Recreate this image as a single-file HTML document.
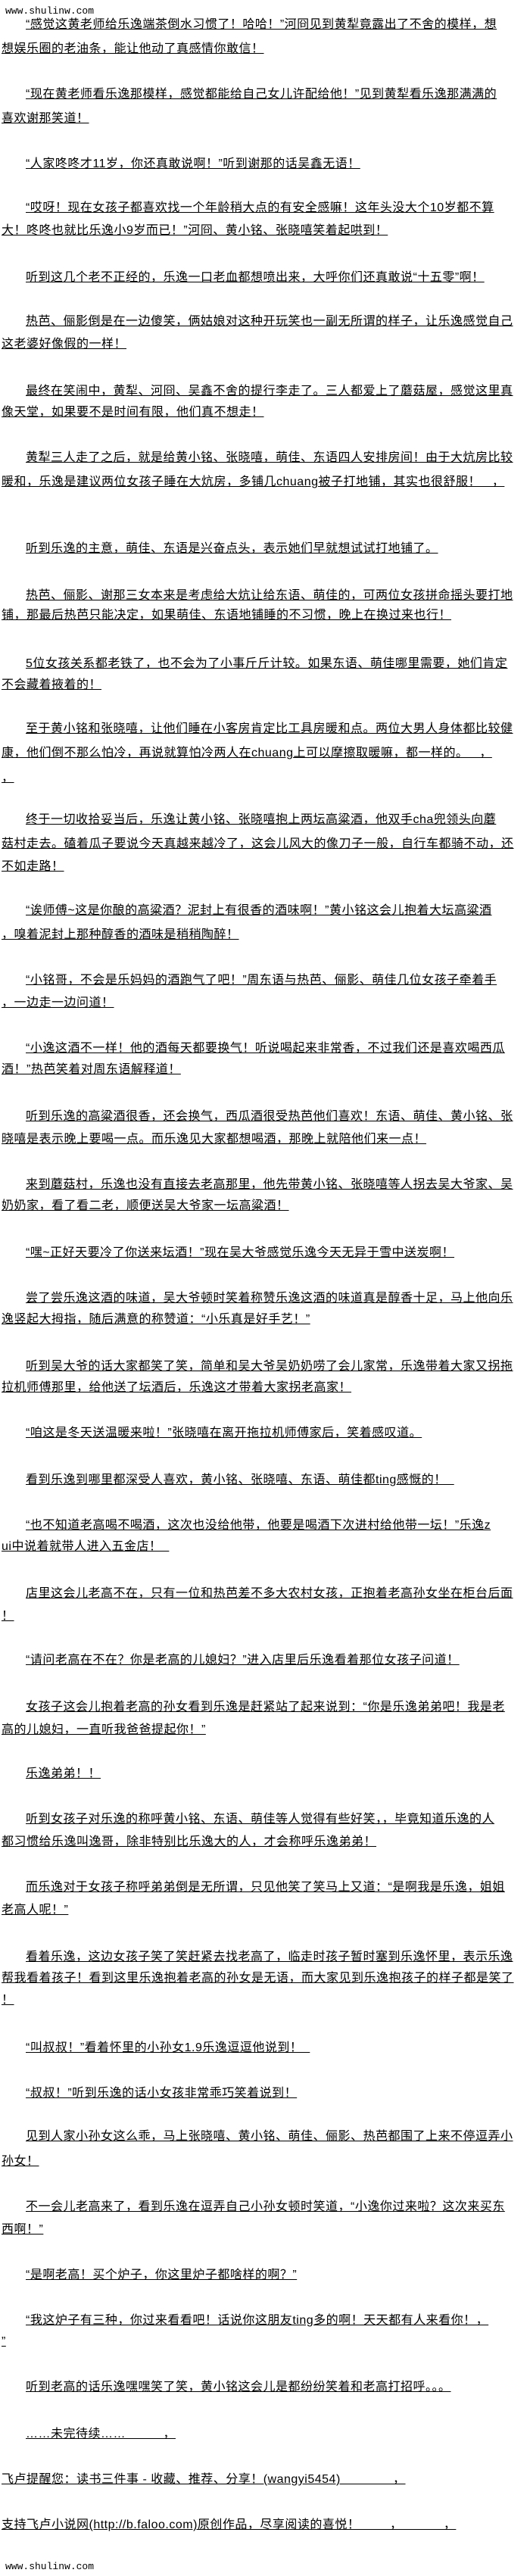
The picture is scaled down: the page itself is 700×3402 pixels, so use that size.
<!DOCTYPE html>
<html><head><meta charset="utf-8">
<style>
html,body{margin:0;padding:0;background:#fff;}
body{width:700px;height:3402px;position:relative;overflow:hidden;font-family:"Liberation Sans","Noto Sans CJK SC",sans-serif;color:#000;}
.l{position:absolute;left:2px;font-size:16px;line-height:20px;height:20px;white-space:nowrap;text-decoration:underline;letter-spacing:0.5px;}
.i{left:34px;}
.w{position:absolute;left:7px;font-family:"Liberation Mono",monospace;font-size:13px;line-height:16px;}
</style></head><body>
<div class="w" style="top:7px">www.shulinw.com</div>
<div class="l i" style="top:23px">“感觉这黄老师给乐逸端茶倒水习惯了！哈哈！”河冏见到黄犁竟露出了不舍的模样，想</div>
<div class="l" style="top:55px">想娱乐圈的老油条，能让他动了真感情你敢信！</div>
<div class="l i" style="top:115px">“现在黄老师看乐逸那模样，感觉都能给自己女儿许配给他！”见到黄犁看乐逸那满满的</div>
<div class="l" style="top:147px">喜欢谢那笑道！</div>
<div class="l i" style="top:207px">“人家咚咚才11岁，你还真敢说啊！”听到谢那的话吴鑫无语！</div>
<div class="l i" style="top:265px">“哎呀！现在女孩子都喜欢找一个年龄稍大点的有安全感嘛！这年头没大个10岁都不算</div>
<div class="l" style="top:295px">大！咚咚也就比乐逸小9岁而已！”河冏、黄小铭、张晓嘻笑着起哄到！</div>
<div class="l i" style="top:357px">听到这几个老不正经的，乐逸一口老血都想喷出来，大呼你们还真敢说“十五零”啊！</div>
<div class="l i" style="top:415px">热芭、俪影倒是在一边傻笑，俩姑娘对这种开玩笑也一副无所谓的样子，让乐逸感觉自己</div>
<div class="l" style="top:445px">这老婆好像假的一样！</div>
<div class="l i" style="top:507px">最终在笑闹中，黄犁、河冏、吴鑫不舍的提行李走了。三人都爱上了蘑菇屋，感觉这里真</div>
<div class="l" style="top:535px">像天堂，如果要不是时间有限，他们真不想走！</div>
<div class="l i" style="top:595px">黄犁三人走了之后，就是给黄小铭、张晓嘻，萌佳、东语四人安排房间！由于大炕房比较</div>
<div class="l" style="top:627px">暖和，乐逸是建议两位女孩子睡在大炕房，多铺几chuang被子打地铺，其实也很舒服！&nbsp;&nbsp;&nbsp;，</div>
<div class="l i" style="top:715px">听到乐逸的主意，萌佳、东语是兴奋点头，表示她们早就想试试打地铺了。</div>
<div class="l i" style="top:777px">热芭、俪影、谢那三女本来是考虑给大炕让给东语、萌佳的，可两位女孩拼命摇头要打地</div>
<div class="l" style="top:803px">铺，那最后热芭只能决定，如果萌佳、东语地铺睡的不习惯，晚上在换过来也行！</div>
<div class="l i" style="top:867px">5位女孩关系都老铁了，也不会为了小事斤斤计较。如果东语、萌佳哪里需要，她们肯定</div>
<div class="l" style="top:895px">不会藏着掖着的！</div>
<div class="l i" style="top:953px">至于黄小铭和张晓嘻，让他们睡在小客房肯定比工具房暖和点。两位大男人身体都比较健</div>
<div class="l" style="top:985px">康，他们倒不那么怕冷，再说就算怕冷两人在chuang上可以摩擦取暖嘛，都一样的。&nbsp;&nbsp;&nbsp;，</div>
<div class="l" style="top:1018px">，</div>
<div class="l i" style="top:1073px">终于一切收拾妥当后，乐逸让黄小铭、张晓嘻抱上两坛高粱酒，他双手cha兜领头向蘑</div>
<div class="l" style="top:1105px">菇村走去。磕着瓜子要说今天真越来越冷了，这会儿风大的像刀子一般，自行车都骑不动，还</div>
<div class="l" style="top:1135px">不如走路！</div>
<div class="l i" style="top:1193px">“诶师傅~这是你酿的高粱酒？泥封上有很香的酒味啊！”黄小铭这会儿抱着大坛高粱酒</div>
<div class="l" style="top:1225px">，嗅着泥封上那种醇香的酒味是稍稍陶醉！</div>
<div class="l i" style="top:1285px">“小铭哥，不会是乐妈妈的酒跑气了吧！”周东语与热芭、俪影、萌佳几位女孩子牵着手</div>
<div class="l" style="top:1315px">，一边走一边问道！</div>
<div class="l i" style="top:1375px">“小逸这酒不一样！他的酒每天都要换气！听说喝起来非常香，不过我们还是喜欢喝西瓜</div>
<div class="l" style="top:1403px">酒！”热芭笑着对周东语解释道！</div>
<div class="l i" style="top:1465px">听到乐逸的高粱酒很香，还会换气，西瓜酒很受热芭他们喜欢！东语、萌佳、黄小铭、张</div>
<div class="l" style="top:1495px">晓嘻是表示晚上要喝一点。而乐逸见大家都想喝酒，那晚上就陪他们来一点！</div>
<div class="l i" style="top:1555px">来到蘑菇村，乐逸也没有直接去老高那里，他先带黄小铭、张晓嘻等人拐去吴大爷家、吴</div>
<div class="l" style="top:1583px">奶奶家，看了看二老，顺便送吴大爷家一坛高粱酒！</div>
<div class="l i" style="top:1645px">“嘿~正好天要冷了你送来坛酒！”现在吴大爷感觉乐逸今天无异于雪中送炭啊！</div>
<div class="l i" style="top:1705px">尝了尝乐逸这酒的味道，吴大爷顿时笑着称赞乐逸这酒的味道真是醇香十足，马上他向乐</div>
<div class="l" style="top:1733px">逸竖起大拇指，随后满意的称赞道：“小乐真是好手艺！”</div>
<div class="l i" style="top:1795px">听到吴大爷的话大家都笑了笑，简单和吴大爷吴奶奶唠了会儿家常，乐逸带着大家又拐拖</div>
<div class="l" style="top:1823px">拉机师傅那里，给他送了坛酒后，乐逸这才带着大家拐老高家！</div>
<div class="l i" style="top:1883px">“咱这是冬天送温暖来啦！”张晓嘻在离开拖拉机师傅家后，笑着感叹道。</div>
<div class="l i" style="top:1945px">看到乐逸到哪里都深受人喜欢，黄小铭、张晓嘻、东语、萌佳都ting感慨的！&nbsp;&nbsp;</div>
<div class="l i" style="top:2005px">“也不知道老高喝不喝酒，这次也没给他带，他要是喝酒下次进村给他带一坛！”乐逸z</div>
<div class="l" style="top:2033px">ui中说着就带人进入五金店！&nbsp;&nbsp;</div>
<div class="l i" style="top:2095px">店里这会儿老高不在，只有一位和热芭差不多大农村女孩，正抱着老高孙女坐在柜台后面</div>
<div class="l" style="top:2125px">！</div>
<div class="l i" style="top:2183px">“请问老高在不在？你是老高的儿媳妇？”进入店里后乐逸看着那位女孩子问道！</div>
<div class="l i" style="top:2245px">女孩子这会儿抱着老高的孙女看到乐逸是赶紧站了起来说到：“你是乐逸弟弟吧！我是老</div>
<div class="l" style="top:2275px">高的儿媳妇，一直听我爸爸提起你！”</div>
<div class="l i" style="top:2333px">乐逸弟弟！！</div>
<div class="l i" style="top:2393px">听到女孩子对乐逸的称呼黄小铭、东语、萌佳等人觉得有些好笑，，毕竟知道乐逸的人</div>
<div class="l" style="top:2423px">都习惯给乐逸叫逸哥，除非特别比乐逸大的人，才会称呼乐逸弟弟！</div>
<div class="l i" style="top:2483px">而乐逸对于女孩子称呼弟弟倒是无所谓，只见他笑了笑马上又道：“是啊我是乐逸，姐姐</div>
<div class="l" style="top:2513px">老高人呢！”</div>
<div class="l i" style="top:2575px">看着乐逸，这边女孩子笑了笑赶紧去找老高了，临走时孩子暂时塞到乐逸怀里，表示乐逸</div>
<div class="l" style="top:2603px">帮我看着孩子！看到这里乐逸抱着老高的孙女是无语，而大家见到乐逸抱孩子的样子都是笑了</div>
<div class="l" style="top:2632px">！</div>
<div class="l i" style="top:2695px">“叫叔叔！”看着怀里的小孙女1.9乐逸逗逗他说到！&nbsp;&nbsp;</div>
<div class="l i" style="top:2755px">“叔叔！”听到乐逸的话小女孩非常乖巧笑着说到！</div>
<div class="l i" style="top:2812px">见到人家小孙女这么乖，马上张晓嘻、黄小铭、萌佳、俪影、热芭都围了上来不停逗弄小</div>
<div class="l" style="top:2845px">孙女！</div>
<div class="l i" style="top:2905px">不一会儿老高来了，看到乐逸在逗弄自己小孙女顿时笑道，“小逸你过来啦？这次来买东</div>
<div class="l" style="top:2935px">西啊！”</div>
<div class="l i" style="top:2995px">“是啊老高！买个炉子，你这里炉子都啥样的啊？”</div>
<div class="l i" style="top:3055px">“我这炉子有三种，你过来看看吧！话说你这朋友ting多的啊！天天都有人来看你！，</div>
<div class="l" style="top:3083px">”</div>
<div class="l i" style="top:3143px">听到老高的话乐逸嘿嘿笑了笑，黄小铭这会儿是都纷纷笑着和老高打招呼。。。</div>
<div class="l i" style="top:3205px">……未完待续……&nbsp;&nbsp;&nbsp;&nbsp;&nbsp;&nbsp;&nbsp;&nbsp;&nbsp;&nbsp;，</div>
<div class="l" style="top:3265px">飞卢提醒您：读书三件事 - 收藏、推荐、分享！(wangyi5454)&nbsp;&nbsp;&nbsp;&nbsp;&nbsp;&nbsp;&nbsp;&nbsp;&nbsp;&nbsp;&nbsp;&nbsp;&nbsp;&nbsp;，</div>
<div class="l" style="top:3325px">支持飞卢小说网(http://b.faloo.com)原创作品，尽享阅读的喜悦！&nbsp;&nbsp;&nbsp;&nbsp;&nbsp;&nbsp;&nbsp;&nbsp;，&nbsp;&nbsp;&nbsp;&nbsp;&nbsp;&nbsp;&nbsp;&nbsp;&nbsp;&nbsp;&nbsp;，</div>
<div class="w" style="top:3382px">www.shulinw.com</div>
</body></html>
